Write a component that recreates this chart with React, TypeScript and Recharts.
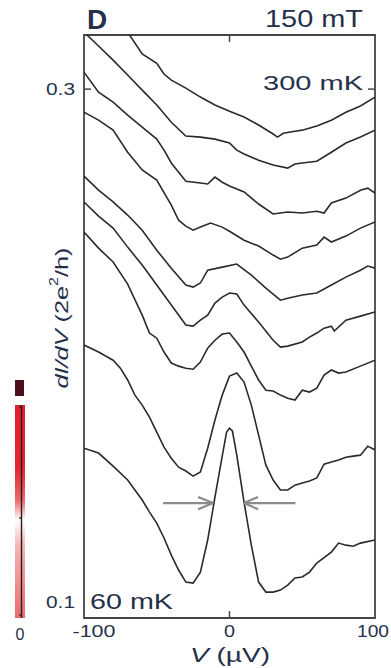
import React from 'react';
import { LineChart, Line, XAxis, YAxis, ReferenceLine, ReferenceArea } from 'recharts';

// dI/dV traces at 150 mT, [V (µV), dI/dV (2e²/h)], top trace 300 mK, bottom trace 60 mK
const CURVE_300: [number, number][] = [
  [-100, 0.3394], [-90, 0.3347], [-80, 0.3289], [-70, 0.3222], [-60, 0.3137], [-50, 0.3101],
  [-45, 0.3059], [-40, 0.3035], [-30, 0.3004], [-20, 0.2969], [-10, 0.2938], [0, 0.2914],
  [10, 0.2891], [20, 0.2860], [30, 0.2825], [33, 0.2813], [37, 0.2828], [45, 0.2836],
  [50, 0.2840], [60, 0.2856], [70, 0.2879], [80, 0.2910], [90, 0.2934], [100, 0.2969],
];
const CURVE_2: [number, number][] = [
  [-100, 0.3222], [-90, 0.3168], [-80, 0.3113], [-70, 0.3055], [-60, 0.2996], [-50, 0.2938],
  [-40, 0.2871], [-30, 0.2817], [-20, 0.2813], [-10, 0.2805], [0, 0.2790], [5, 0.2762],
  [10, 0.2747], [20, 0.2723], [30, 0.2704], [40, 0.2692], [45, 0.2708], [50, 0.2712],
  [60, 0.2719], [70, 0.2754], [80, 0.2790], [90, 0.2813], [100, 0.2840],
];
const CURVE_3: [number, number][] = [
  [-100, 0.3066], [-90, 0.2988], [-80, 0.2949], [-70, 0.2899], [-60, 0.2852], [-50, 0.2805],
  [-45, 0.2762], [-40, 0.2712], [-30, 0.2641], [-20, 0.2634], [-15, 0.2630], [-10, 0.2657],
  [-5, 0.2637], [0, 0.2622], [10, 0.2599], [20, 0.2552], [30, 0.2513], [40, 0.2521],
  [50, 0.2517], [60, 0.2524], [65, 0.2517], [70, 0.2556], [80, 0.2575], [90, 0.2606],
  [95, 0.2614], [100, 0.2595],
];
const CURVE_4: [number, number][] = [
  [-100, 0.2910], [-90, 0.2879], [-80, 0.2840], [-70, 0.2754], [-60, 0.2685], [-50, 0.2645],
  [-40, 0.2548], [-35, 0.2489], [-30, 0.2466], [-25, 0.2450], [-20, 0.2462], [-13, 0.2478],
  [-5, 0.2462], [0, 0.2446], [10, 0.2411], [20, 0.2388], [30, 0.2353], [35, 0.2337],
  [40, 0.2345], [50, 0.2380], [60, 0.2392], [65, 0.2423], [70, 0.2404], [80, 0.2427],
  [90, 0.2458], [100, 0.2482],
];
const CURVE_5: [number, number][] = [
  [-100, 0.2661], [-90, 0.2606], [-80, 0.2560], [-70, 0.2509], [-60, 0.2450], [-50, 0.2372],
  [-40, 0.2302], [-30, 0.2236], [-25, 0.2228], [-20, 0.2244], [-15, 0.2294], [-5, 0.2306],
  [5, 0.2318], [15, 0.2275], [25, 0.2224], [35, 0.2177], [40, 0.2185], [50, 0.2197],
  [60, 0.2205], [70, 0.2236], [80, 0.2267], [90, 0.2294], [95, 0.2310], [100, 0.2302],
];
const CURVE_6: [number, number][] = [
  [-100, 0.2560], [-90, 0.2505], [-80, 0.2458], [-70, 0.2384], [-60, 0.2314], [-50, 0.2236],
  [-40, 0.2158], [-30, 0.2080], [-25, 0.2076], [-20, 0.2099], [-15, 0.2119], [-10, 0.2166],
  [-5, 0.2189], [0, 0.2205], [5, 0.2201], [10, 0.2158], [20, 0.2092], [30, 0.2021],
  [35, 0.1994], [40, 0.1998], [50, 0.2014], [55, 0.2033], [60, 0.2049], [65, 0.2068],
  [70, 0.2076], [72, 0.2057], [80, 0.2099], [90, 0.2115], [100, 0.2131],
];
const CURVE_7: [number, number][] = [
  [-100, 0.2443], [-90, 0.2380], [-80, 0.2326], [-70, 0.2240], [-60, 0.2119], [-55, 0.2049],
  [-50, 0.2029], [-45, 0.1975], [-40, 0.1932], [-35, 0.1920], [-30, 0.1912], [-25, 0.1908],
  [-20, 0.1936], [-15, 0.1990], [-10, 0.2021], [-5, 0.2045], [0, 0.2049], [5, 0.2014],
  [10, 0.1975], [15, 0.1920], [20, 0.1866], [25, 0.1826], [30, 0.1823], [35, 0.1807],
  [40, 0.1795], [45, 0.1788], [50, 0.1826], [55, 0.1819], [60, 0.1834], [65, 0.1885],
  [70, 0.1905], [75, 0.1893], [80, 0.1897], [90, 0.1920], [100, 0.1943],
];
const CURVE_8: [number, number][] = [
  [-100, 0.2002], [-90, 0.1975], [-80, 0.1943], [-75, 0.1912], [-70, 0.1866], [-65, 0.1807],
  [-60, 0.1768], [-55, 0.1721], [-50, 0.1663], [-45, 0.1604], [-40, 0.1561], [-35, 0.1526],
  [-30, 0.1511], [-25, 0.1491], [-20, 0.1507], [-15, 0.1600], [-10, 0.1710], [-5, 0.1807],
  [0, 0.1881], [5, 0.1893], [10, 0.1858], [15, 0.1768], [20, 0.1651], [25, 0.1534],
  [30, 0.1476], [35, 0.1437], [40, 0.1437], [45, 0.1456], [50, 0.1464], [55, 0.1472],
  [60, 0.1484], [65, 0.1538], [70, 0.1546], [75, 0.1554], [80, 0.1565], [85, 0.1569],
  [90, 0.1573], [95, 0.1608], [100, 0.1593],
];
const CURVE_60: [number, number][] = [
  [-100, 0.1600], [-90, 0.1581], [-80, 0.1530], [-70, 0.1476], [-60, 0.1398], [-55, 0.1351],
  [-50, 0.1308], [-45, 0.1250], [-40, 0.1183], [-35, 0.1125], [-30, 0.1078], [-25, 0.1074],
  [-20, 0.1117], [-15, 0.1242], [-10, 0.1409], [-5, 0.1569], [-2, 0.1663], [0, 0.1678],
  [2, 0.1667], [5, 0.1573], [10, 0.1390], [15, 0.1222], [20, 0.1078], [25, 0.1039],
  [30, 0.1039], [35, 0.1047], [40, 0.1066], [45, 0.1094], [50, 0.1098], [55, 0.1117],
  [60, 0.1152], [70, 0.1195], [75, 0.1230], [80, 0.1222], [85, 0.1218], [90, 0.1230],
  [100, 0.1242],
];

const CURVES = [CURVE_300, CURVE_2, CURVE_3, CURVE_4, CURVE_5, CURVE_6, CURVE_7, CURVE_8, CURVE_60];

const X_TICKS = [-100, 0, 100];
const Y_TICKS = [0.1, 0.3];
const Y_MIN = 0.0938;
const Y_MAX = 0.3211;

// FWHM arrows on the 60 mK peak
const ARROW_Y = 0.1386;

const TEXT = '#26304a';
const FONT = '"Liberation Sans", Arial, Helvetica, sans-serif';
const LINE = '#2a2a2a';
const ARROW = '#8c8c8c';

const YTick = ({ x, y, payload }: any) => (
  <text x={x} y={y} dy={6} textAnchor="end" fontSize={16} fill={TEXT} fontFamily={FONT}
    textLength={29} lengthAdjust="spacingAndGlyphs">
    {payload.value.toFixed(1)}
  </text>
);

const XTick = ({ x, y, payload }: any) => {
  const v = payload.value;
  const dx = v === -100 ? 10 : v === 100 ? -2 : 0;
  const len = v === -100 ? 43 : v === 100 ? 32 : 11;
  return (
    <text x={x + dx} y={y} dy={19} textAnchor="middle" fontSize={16} fill={TEXT} fontFamily={FONT}
      textLength={len} lengthAdjust="spacingAndGlyphs">
      {String(v)}
    </text>
  );
};

export default function App() {
  return (
    <div style={{ position: 'absolute', left: 0, top: 0, width: 391, height: 668, background: '#fff' }}>
      <LineChart width={391} height={668} margin={{ top: 35, right: 16, bottom: 0, left: 0 }}>
        <XAxis type="number" dataKey="v" domain={[-100, 100]} ticks={X_TICKS} allowDataOverflow
          axisLine={false} tickLine={false} tickSize={0} tickMargin={0} height={50} tick={XTick} />
        <YAxis type="number" domain={[Y_MIN, Y_MAX]} ticks={Y_TICKS} allowDataOverflow
          axisLine={false} tickLine={false} tickSize={0} tickMargin={9} width={84} tick={YTick} />
        <ReferenceArea x1={-100} x2={100} y1={Y_MIN} y2={Y_MAX} fill="none" fillOpacity={0}
          stroke="#454545" strokeWidth={1.8} />
        {/* inward ticks */}
        <ReferenceLine segment={[{ x: -100, y: 0.3 }, { x: -95.2, y: 0.3 }]} stroke="#454545" strokeWidth={1.5} />
        <ReferenceLine segment={[{ x: 95.2, y: 0.3 }, { x: 100, y: 0.3 }]} stroke="#454545" strokeWidth={1.5} />
        <ReferenceLine segment={[{ x: 0, y: Y_MIN }, { x: 0, y: Y_MIN + 0.0027 }]} stroke="#454545" strokeWidth={1.5} />
        <ReferenceLine segment={[{ x: 0, y: Y_MAX }, { x: 0, y: Y_MAX - 0.0027 }]} stroke="#454545" strokeWidth={1.5} />

        {CURVES.map((c, i) => (
          <Line key={i} data={c.map(([v, g]) => ({ v, g }))} dataKey="g" type="linear"
            stroke={LINE} strokeWidth={1.6} dot={false} isAnimationActive={false} />
        ))}

        <ReferenceLine segment={[{ x: -45.7, y: ARROW_Y }, { x: -11.3, y: ARROW_Y }]} stroke={ARROW} strokeWidth={2.4} />
        <ReferenceLine segment={[{ x: -21.6, y: ARROW_Y + 0.0024 }, { x: -11.3, y: ARROW_Y }]} stroke={ARROW} strokeWidth={2.2} />
        <ReferenceLine segment={[{ x: -21.6, y: ARROW_Y - 0.0024 }, { x: -11.3, y: ARROW_Y }]} stroke={ARROW} strokeWidth={2.2} />
        <ReferenceLine segment={[{ x: 45.3, y: ARROW_Y }, { x: 10, y: ARROW_Y }]} stroke={ARROW} strokeWidth={2.4} />
        <ReferenceLine segment={[{ x: 19.6, y: ARROW_Y + 0.0024 }, { x: 10, y: ARROW_Y }]} stroke={ARROW} strokeWidth={2.2} />
        <ReferenceLine segment={[{ x: 19.6, y: ARROW_Y - 0.0024 }, { x: 10, y: ARROW_Y }]} stroke={ARROW} strokeWidth={2.2} />
      </LineChart>

      <svg width={391} height={668} style={{ position: 'absolute', left: 0, top: 0, pointerEvents: 'none' }}>
        <defs>
          <linearGradient id="cbar" x1="0" y1="0" x2="0" y2="1">
            <stop offset="0" stopColor="#e41e29" />
            <stop offset="0.3" stopColor="#e52731" />
            <stop offset="0.45" stopColor="#ee6a6d" />
            <stop offset="0.54" stopColor="#ffffff" />
            <stop offset="0.66" stopColor="#f6b4b4" />
            <stop offset="1" stopColor="#ec6a6c" />
          </linearGradient>
        </defs>
        <rect x={15} y={380} width={9} height={16} fill="#4d0f1a" />
        <rect x={15} y={405} width={10} height={213} fill="url(#cbar)" />
        <line x1={21.5} y1={405} x2={21.5} y2={618} stroke="#222" strokeWidth={1.4} />
        <line x1={19} y1={407} x2={21.5} y2={407} stroke="#222" strokeWidth={1.2} />
        <line x1={19} y1={518} x2={21.5} y2={518} stroke="#222" strokeWidth={1.2} />
        <line x1={19} y1={615} x2={21.5} y2={615} stroke="#222" strokeWidth={1.2} />
        <text x={20} y={640} textAnchor="middle" fontSize={16} fill={TEXT} fontFamily={FONT}>0</text>

        <text x={87} y={29} fontSize={28} fontWeight="bold" fill={TEXT} fontFamily={FONT}>D</text>
        <text x={265} y={27} fontSize={23} fill={TEXT} fontFamily={FONT}
          textLength={98} lengthAdjust="spacingAndGlyphs">150 mT</text>
        <text x={263} y={90} fontSize={21} fill={TEXT} fontFamily={FONT}
          textLength={100} lengthAdjust="spacingAndGlyphs">300 mK</text>
        <text x={90} y={609} fontSize={22} fill={TEXT} fontFamily={FONT}
          textLength={83} lengthAdjust="spacingAndGlyphs">60 mK</text>

        <text x={61} y={318} transform="rotate(-90 61 318)" textAnchor="middle" dominantBaseline="central"
          fontSize={19} fill={TEXT} fontFamily={FONT} textLength={141} lengthAdjust="spacingAndGlyphs">
          <tspan fontStyle="italic">dI/dV</tspan>
          <tspan>{'  (2e'}</tspan>
          <tspan fontSize={12} dy={-7}>2</tspan>
          <tspan dy={7}>/h)</tspan>
        </text>

        <text x={230} y={662} textAnchor="middle" fontSize={20} fill={TEXT} fontFamily={FONT}
          textLength={80} lengthAdjust="spacingAndGlyphs">
          <tspan fontStyle="italic">V</tspan>
          <tspan>{' (µV)'}</tspan>
        </text>
      </svg>
    </div>
  );
}
